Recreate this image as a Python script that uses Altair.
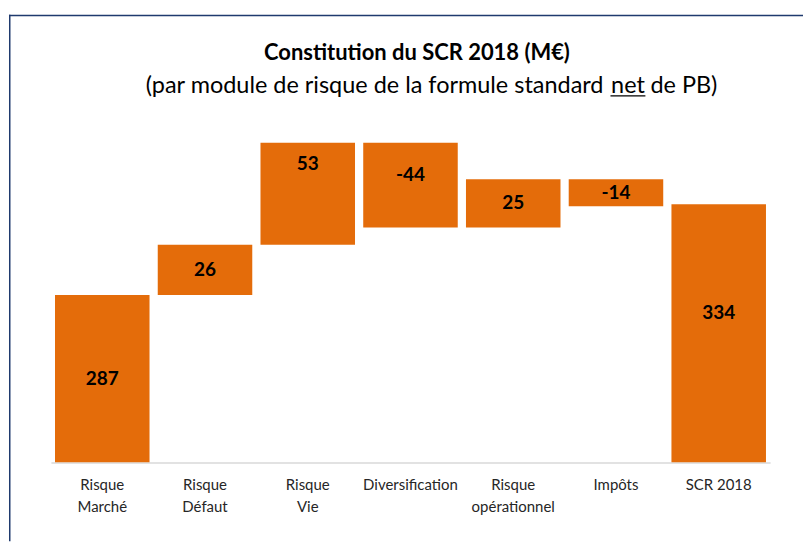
import altair as alt
import pandas as pd

categories = ["Risque Marché", "Risque Défaut", "Risque Vie", "Diversification",
              "Risque opérationnel", "Impôts", "SCR 2018"]
values = [287, 26, 53, -44, 25, -14, 334]
is_total = [False, False, False, False, False, False, True]

title_text = "Constitution du SCR 2018 (M€)"
sub_left = "(par module de risque de la formule standard"
sub_mid = "net"
sub_right = "de PB)"

AXIS_MIN = 200
AXIS_MAX = 390

# where the label sits inside each bar (fraction of the bar from its lower end)
label_frac = [0.5, 0.5, 0.79, 0.62, 0.5, 0.5, 0.58]

rows = []
cum = 0
for c, v, t, f in zip(categories, values, is_total, label_frac):
    if t:
        start, end = 0, v
        cum = v
    else:
        start, end = cum, cum + v
        cum = cum + v
    start = max(start, AXIS_MIN)
    lo, hi = min(start, end), max(start, end)
    rows.append({"cat": c, "start": start, "end": end, "label": str(v),
                 "lpos": lo + f * (hi - lo)})
df = pd.DataFrame(rows)

FONT = "Lato"
W, H = 721, 367

xenc = alt.X("cat:N", sort=categories, title=None,
             scale=alt.Scale(paddingInner=0.08, paddingOuter=0.04),
             axis=alt.Axis(labelExpr="datum.value == 'SCR 2018' ? datum.value : split(datum.value, ' ')",
                           labelAngle=0, labelFont=FONT, labelFontSize=15,
                           labelColor="#262626", labelLineHeight=22, labelPadding=27,
                           ticks=False, domainColor="#d9d9d9", domainWidth=1.5,
                           labelBaseline="alphabetic"))
yscale = alt.Scale(domain=[AXIS_MIN, AXIS_MAX], nice=False, zero=False)

base = alt.Chart(df)
bars = base.mark_bar(color="#E46C0A", clip=True).encode(
    x=xenc,
    y=alt.Y("start:Q", scale=yscale, axis=None),
    y2="end:Q",
)
labels = base.mark_text(font=FONT, fontSize=19, fontWeight="bold", color="#000000",
                        baseline="middle").encode(
    x=alt.X("cat:N", sort=categories),
    y=alt.Y("lpos:Q", scale=yscale),
    text="label:N",
)

one = pd.DataFrame({"k": [0]})
title = alt.Chart(one).mark_text(font=FONT, fontSize=22, fontWeight="bold",
                                 color="#000000", align="center", baseline="alphabetic").encode(
    x=alt.value(367), y=alt.value(-37), text=alt.value(title_text))
s1 = alt.Chart(one).mark_text(font=FONT, fontSize=23.5, color="#000000", align="right",
                              baseline="alphabetic").encode(
    x=alt.value(554), y=alt.value(-3), text=alt.value(sub_left))
s2 = alt.Chart(one).mark_text(font=FONT, fontSize=23.5, color="#000000", align="center",
                              baseline="alphabetic").encode(
    x=alt.value(578.5), y=alt.value(-3), text=alt.value(sub_mid))
s3 = alt.Chart(one).mark_text(font=FONT, fontSize=23.5, color="#000000", align="left",
                              baseline="alphabetic").encode(
    x=alt.value(601), y=alt.value(-3), text=alt.value(sub_right))
uline = alt.Chart(one).mark_rule(color="#000000", strokeWidth=1.3).encode(
    x=alt.value(561), x2=alt.value(596), y=alt.value(-0.5))

frame_top = alt.Chart(one).mark_rule(color="#1F3A6E", strokeWidth=1.5).encode(
    x=alt.value(-42), x2=alt.value(754), y=alt.value(-81.25))
frame_left = alt.Chart(one).mark_rule(color="#1F3A6E", strokeWidth=1.5).encode(
    x=alt.value(-41.25), y=alt.value(-82), y2=alt.value(446))

chart = alt.layer(bars, labels, title, s1, s2, s3, uline, frame_top, frame_left).properties(
    width=W, height=H,
    padding={"left": 0, "top": 5, "right": 0, "bottom": 0},
).configure(background="#ffffff").configure_view(stroke=None)

chart.save("out.html", embed_options={"renderer": "svg", "actions": False})
